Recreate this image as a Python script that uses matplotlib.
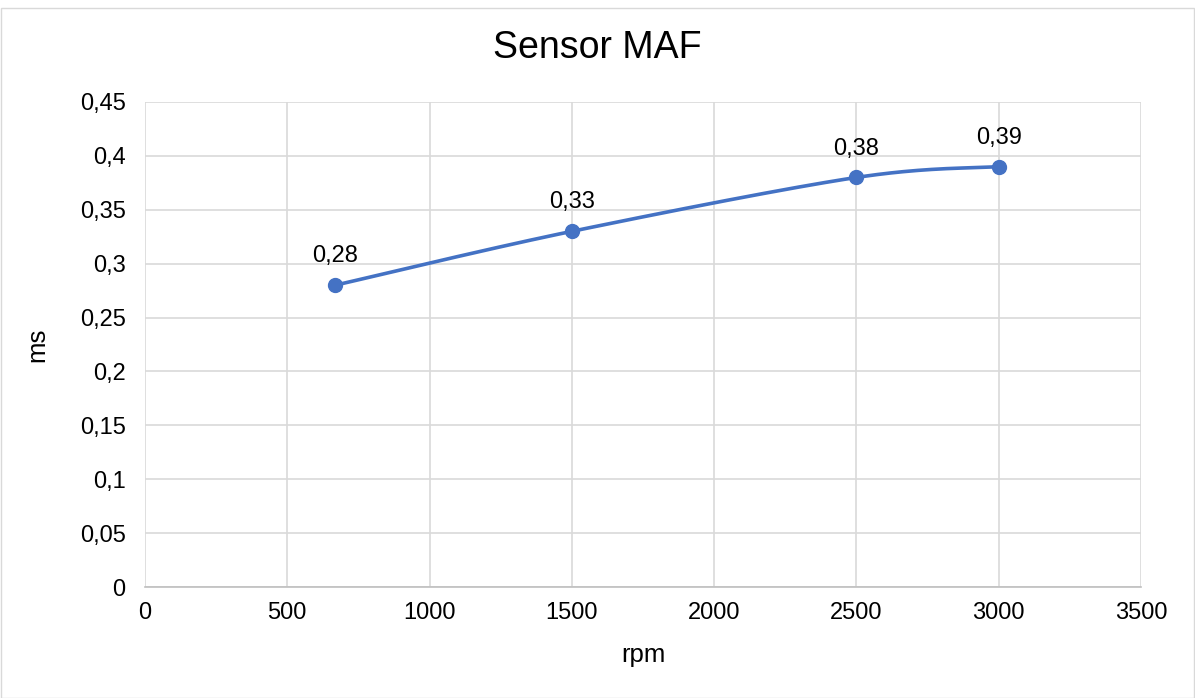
import numpy as np
import matplotlib
matplotlib.use("Agg")
import matplotlib.pyplot as plt
from matplotlib.patches import Rectangle

plt.rcParams['font.family'] = ['Liberation Sans', 'DejaVu Sans']

# rpm vs ms readings
rpm = [668, 1500, 2500, 3000]
ms = [0.28, 0.33, 0.38, 0.39]
labels = ["0,28", "0,33", "0,38", "0,39"]

x_ticks = [0, 500, 1000, 1500, 2000, 2500, 3000, 3500]
y_ticks = [0, 0.05, 0.1, 0.15, 0.2, 0.25, 0.3, 0.35, 0.4, 0.45]
y_tick_labels = ["0", "0,05", "0,1", "0,15", "0,2", "0,25", "0,3", "0,35", "0,4", "0,45"]

blue = "#4472C4"
grid_col = "#D9D9D9"
text_col = "#000000"


def smooth_curve(xs, ys, n=60):
    # bezier smoothing like spreadsheet "smoothed line"
    p = np.column_stack([xs, ys]).astype(float)
    pts = np.vstack([p[0], p, p[-1]])
    out = []
    t = np.linspace(0, 1, n)[:, None]
    for i in range(1, len(pts) - 2):
        p0, p1 = pts[i], pts[i + 1]
        c1 = p0 + (pts[i + 1] - pts[i - 1]) / 6
        c2 = p1 - (pts[i + 2] - pts[i]) / 6
        seg = ((1 - t) ** 3) * p0 + 3 * ((1 - t) ** 2) * t * c1 + 3 * (1 - t) * t ** 2 * c2 + t ** 3 * p1
        out.append(seg)
    out = np.vstack(out)
    return out[:, 0], out[:, 1]


fig = plt.figure(figsize=(11.95, 6.98), dpi=100)
fig.patches.append(Rectangle((0.5 / 1195, 0.5 / 698), 1 - 1.5 / 1195, 1 - 8 / 698,
                             transform=fig.transFigure, fill=False,
                             edgecolor="#D9D9D9", linewidth=1))

ax = fig.add_axes([145 / 1195, 1 - 587 / 698, (1141 - 145) / 1195, (587 - 102) / 698])

sx, sy = smooth_curve(rpm, ms)
ax.plot(sx, sy, color=blue, linewidth=2.6, solid_capstyle="round", zorder=3)
ax.plot(rpm, ms, "o", color=blue, markersize=10, zorder=4)

for x, y, s in zip(rpm, ms, labels):
    ax.annotate(s, (x, y), xytext=(0, 16.5), textcoords="offset points",
                ha="center", va="baseline", fontsize=17, color=text_col)

ax.set_xlim(0, 3500)
ax.set_ylim(0, 0.45)
ax.set_xticks(x_ticks)
ax.set_yticks(y_ticks)
ax.set_yticklabels(y_tick_labels)
ax.tick_params(axis="both", length=0, labelsize=17, colors=text_col)
ax.tick_params(axis="x", pad=11)
ax.tick_params(axis="y", pad=14)

ax.grid(True, color=grid_col, linewidth=1.2)
ax.set_axisbelow(True)
for side in ["top", "right", "left"]:
    ax.spines[side].set_visible(False)
ax.spines["bottom"].set_color("#BFBFBF")
ax.spines["bottom"].set_linewidth(1.2)

ax.set_xlabel("rpm", fontsize=18.5, color=text_col)
ax.set_ylabel("ms", fontsize=18.5, color=text_col)
ax.xaxis.set_label_coords((643 - 145) / 996, (587 - 655) / 485)
ax.yaxis.set_label_coords((37 - 145) / 996, 0.5)
ax.xaxis.label.set_va("center")
ax.yaxis.label.set_va("center")

fig.text(0.5, 1 - 48 / 698, "Sensor MAF", ha="center", va="center", fontsize=27, color=text_col)

fig.savefig("out.png", dpi=100)
